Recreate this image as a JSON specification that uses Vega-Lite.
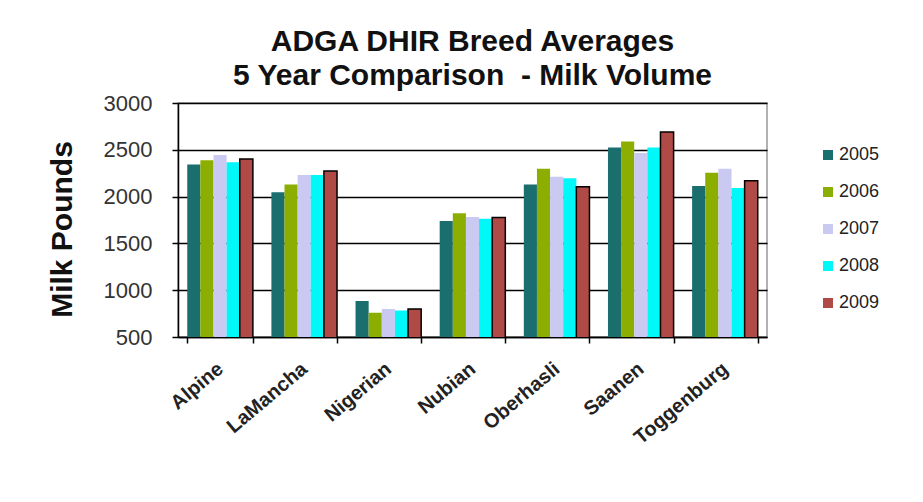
{
  "$schema": "https://vega.github.io/schema/vega-lite/v6.json",
  "width": 589,
  "height": 234,
  "autosize": {"type": "none"},
  "padding": {"left": 178, "top": 103, "right": 156, "bottom": 165},
  "background": "white",
  "title": {
    "text": ["ADGA DHIR Breed Averages", "5 Year Comparison \u00a0- Milk Volume"],
    "font": "Liberation Sans",
    "fontSize": 30,
    "fontWeight": "bold",
    "color": "#111111",
    "lineHeight": 34,
    "anchor": "middle",
    "offset": 1
  },
  "data": {
    "values": [
      {"breed": "Alpine", "year": "2005", "milk": 2342},
      {"breed": "Alpine", "year": "2006", "milk": 2388},
      {"breed": "Alpine", "year": "2007", "milk": 2444},
      {"breed": "Alpine", "year": "2008", "milk": 2367},
      {"breed": "Alpine", "year": "2009", "milk": 2402},
      {"breed": "LaMancha", "year": "2005", "milk": 2046},
      {"breed": "LaMancha", "year": "2006", "milk": 2130},
      {"breed": "LaMancha", "year": "2007", "milk": 2232},
      {"breed": "LaMancha", "year": "2008", "milk": 2232},
      {"breed": "LaMancha", "year": "2009", "milk": 2274},
      {"breed": "Nigerian", "year": "2005", "milk": 885},
      {"breed": "Nigerian", "year": "2006", "milk": 758},
      {"breed": "Nigerian", "year": "2007", "milk": 798},
      {"breed": "Nigerian", "year": "2008", "milk": 782},
      {"breed": "Nigerian", "year": "2009", "milk": 798},
      {"breed": "Nubian", "year": "2005", "milk": 1739},
      {"breed": "Nubian", "year": "2006", "milk": 1823},
      {"breed": "Nubian", "year": "2007", "milk": 1781},
      {"breed": "Nubian", "year": "2008", "milk": 1763},
      {"breed": "Nubian", "year": "2009", "milk": 1777},
      {"breed": "Oberhasli", "year": "2005", "milk": 2130},
      {"breed": "Oberhasli", "year": "2006", "milk": 2298},
      {"breed": "Oberhasli", "year": "2007", "milk": 2211},
      {"breed": "Oberhasli", "year": "2008", "milk": 2197},
      {"breed": "Oberhasli", "year": "2009", "milk": 2105},
      {"breed": "Saanen", "year": "2005", "milk": 2525},
      {"breed": "Saanen", "year": "2006", "milk": 2588},
      {"breed": "Saanen", "year": "2007", "milk": 2465},
      {"breed": "Saanen", "year": "2008", "milk": 2525},
      {"breed": "Saanen", "year": "2009", "milk": 2690},
      {"breed": "Toggenburg", "year": "2005", "milk": 2112},
      {"breed": "Toggenburg", "year": "2006", "milk": 2256},
      {"breed": "Toggenburg", "year": "2007", "milk": 2298},
      {"breed": "Toggenburg", "year": "2008", "milk": 2091},
      {"breed": "Toggenburg", "year": "2009", "milk": 2169}
    ]
  },
  "mark": {"type": "bar", "strokeWidth": 1.5, "clip": true},
  "encoding": {
    "x": {
      "field": "breed",
      "type": "nominal",
      "sort": null,
      "scale": {"paddingInner": 0.22, "paddingOuter": 0.11},
      "axis": {
        "title": null,
        "tickBand": "extent",
        "labelAngle": -40,
        "labelAlign": "right",
        "labelBaseline": "middle",
        "labelPadding": 23,
        "labelFont": "Liberation Sans",
        "labelFontSize": 20,
        "labelFontWeight": "bold",
        "labelColor": "#222222",
        "domainColor": "black",
        "tickColor": "black",
        "tickSize": 6,
        "domainWidth": 1.5,
        "tickWidth": 1.5,
        "grid": false
      }
    },
    "xOffset": {"field": "year", "type": "nominal", "scale": {"paddingInner": 0, "paddingOuter": 0}},
    "y": {
      "field": "milk",
      "type": "quantitative",
      "scale": {"domain": [500, 3000], "nice": false, "zero": false},
      "axis": {
        "title": "Milk Pounds",
        "titleFont": "Liberation Sans",
        "titleFontSize": 30,
        "titleFontWeight": "bold",
        "titleColor": "#111111",
        "titlePadding": 26,
        "titleY": 126,
        "values": [500, 1000, 1500, 2000, 2500, 3000],
        "format": "d",
        "labelFont": "Liberation Sans",
        "labelFontSize": 22,
        "labelColor": "#333333",
        "labelPadding": 20,
        "domainColor": "black",
        "domainWidth": 1.5,
        "tickColor": "black",
        "tickSize": 6,
        "tickWidth": 1.5,
        "grid": true,
        "gridColor": "black",
        "gridWidth": 1.5
      }
    },
    "color": {
      "field": "year",
      "type": "nominal",
      "scale": {
        "domain": ["2005", "2006", "2007", "2008", "2009"],
        "range": ["#1a6e6e", "#8cae00", "#c9c9f2", "#00f8f8", "#b04a46"]
      },
      "legend": {
        "title": null,
        "orient": "none",
        "legendX": 641,
        "legendY": 43,
        "symbolType": "square",
        "symbolSize": 100,
        "symbolStrokeWidth": 0,
        "labelFont": "Liberation Sans",
        "labelFontSize": 18,
        "labelColor": "#222222",
        "labelOffset": 2,
        "rowPadding": 19
      }
    },
    "stroke": {
      "condition": {"test": "datum.year == '2009'", "value": "black"},
      "value": null
    }
  },
  "config": {
    "view": {"stroke": "#999999", "strokeWidth": 1.5}
  }
}
